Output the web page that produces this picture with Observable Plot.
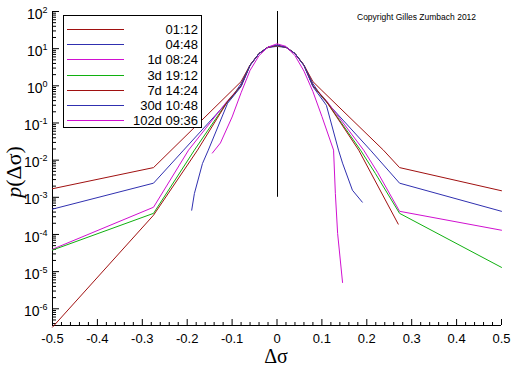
<!DOCTYPE html>
<html><head><meta charset="utf-8">
<script src="https://cdn.jsdelivr.net/npm/d3@7"></script>
<script src="https://cdn.jsdelivr.net/npm/@observablehq/plot@0.6"></script>
<style>
body{margin:0;background:#fff;}
#wrap{position:relative;width:512px;height:366px;overflow:hidden;font-family:Arial,"Liberation Sans",sans-serif;}
#legend{position:absolute;left:63px;top:15px;width:139px;height:113px;border:1px solid #000;background:#fff;box-sizing:border-box;}
.lrow{position:absolute;left:0;width:137px;height:15px;}
.lline{position:absolute;left:3px;width:57px;top:7px;height:1px;}
.ltext{position:absolute;right:3px;top:0;font-size:13px;line-height:15px;color:#000;white-space:nowrap;}
#copy{position:absolute;left:357px;top:12px;font-size:8.5px;color:#000;white-space:nowrap;}
#ylab{position:absolute;left:14px;top:172px;transform:translate(-50%,-50%) rotate(-90deg);font-family:"Liberation Serif","Times New Roman",serif;font-size:22px;white-space:nowrap;}
#xlab{position:absolute;left:276px;top:356px;transform:translate(-50%,-50%);font-family:"Liberation Serif","Times New Roman",serif;font-size:20px;line-height:20px;white-space:nowrap;}
</style></head><body><div id="wrap"></div>
<script>
const labels = ["01:12","04:48","1d 08:24","3d 19:12","7d 14:24","30d 10:48","102d 09:36"];
const colors = ["#a01010","#3030b0","#d010d0","#10b010","#a01010","#3030b0","#d010d0"];

const dsigma_0112 = [-0.5,-0.275,-0.1,-0.08,-0.06,-0.04,-0.02,0,0.02,0.04,0.06,0.08,0.1,0.237,0.273,0.5];
const p_0112      = [1.7e-3,6.3e-3,0.75,1.3,3.6,7.4,10.8,12,10.8,7.4,3.6,1.3,0.75,1.86e-2,6.3e-3,1.5e-3];

const dsigma_0448 = [-0.5,-0.275,-0.208,-0.1,-0.08,-0.06,-0.04,-0.02,0,0.02,0.04,0.06,0.08,0.1,0.208,0.273,0.5];
const p_0448      = [4.8e-4,2.4e-3,1.86e-2,0.5,1.15,3.6,7.4,10.8,11.5,10.8,7.4,3.6,1.15,0.5,1.86e-2,2.4e-3,4.2e-4];

const dsigma_1d = [-0.5,-0.275,-0.197,-0.11,-0.08,-0.06,-0.04,-0.02,0,0.02,0.04,0.06,0.08,0.11,0.193,0.224,0.273,0.5];
const p_1d      = [4e-5,5.4e-4,1.86e-2,0.4,1.0,3.6,7.4,11,12,11,7.4,3.6,1.0,0.4,1.86e-2,4.7e-3,4.2e-4,1.3e-4];

const dsigma_3d = [-0.5,-0.275,-0.184,-0.11,-0.08,-0.06,-0.04,-0.02,0,0.02,0.04,0.06,0.08,0.11,0.186,0.219,0.273,0.5];
const p_3d      = [3.8e-5,3.7e-4,1.86e-2,0.38,1.0,3.6,7.4,11,12,11,7.4,3.6,1.0,0.38,1.86e-2,4.4e-3,3.7e-4,1.3e-5];

const dsigma_7d = [-0.5,-0.275,-0.177,-0.11,-0.08,-0.06,-0.04,-0.02,0,0.02,0.04,0.06,0.08,0.11,0.182,0.27];
const p_7d      = [3.2e-7,3.3e-4,1.86e-2,0.38,1.0,3.6,7.4,11,12,11,7.4,3.6,1.0,0.38,1.86e-2,1.9e-4];

const dsigma_30d = [-0.19,-0.184,-0.166,-0.153,-0.11,-0.08,-0.06,-0.04,-0.02,0,0.02,0.04,0.06,0.08,0.11,0.137,0.146,0.168,0.19];
const p_30d      = [4.5e-4,1.26e-3,8.1e-3,1.86e-2,0.34,0.95,3.5,7.4,11,12.5,11,7.4,3.5,0.95,0.3,1.86e-2,8.3e-3,1.55e-3,7.4e-4];

const dsigma_102d = [-0.144,-0.126,-0.1,-0.08,-0.06,-0.04,-0.02,0,0.02,0.04,0.06,0.08,0.1,0.126,0.13,0.135,0.146];
const p_102d      = [1.55e-2,2.9e-2,0.145,0.65,2.6,6.5,11,13.5,11.5,6.5,2.5,0.7,0.15,1.86e-2,1.26e-3,1.07e-4,5.1e-6];

const xTickValues = [-0.5,-0.4,-0.3,-0.2,-0.1,0,0.1,0.2,0.3,0.4,0.5];
const yTickExponents = [-6,-5,-4,-3,-2,-1,0,1,2];

const xsList = [dsigma_0112,dsigma_0448,dsigma_1d,dsigma_3d,dsigma_7d,dsigma_30d,dsigma_102d];
const psList = [p_0112,p_0448,p_1d,p_3d,p_7d,p_30d,p_102d];
const rows = labels.flatMap((label,i)=>xsList[i].map((x,j)=>({series:label,x,p:psList[i][j]})));

const yMin = 3.55e-7, yMax = 100;
const yMajor = yTickExponents.map(e=>Math.pow(10,e));
const yMinor = [];
for (let e=-7;e<=1;e++) for (let m=2;m<=9;m++){const v=m*Math.pow(10,e); if(v>=yMin&&v<=yMax) yMinor.push(v);}
const xMinor = d3.range(-50,51,2).map(v=>v/100).filter(v=>Math.abs(Math.round(v*10)-v*10)>1e-6);

const fmtX = d => (Math.abs(d)<1e-9 ? "0" : String(+d.toFixed(1)));

const chart = Plot.plot({
  width:512, height:366, marginLeft:52, marginRight:11, marginTop:11, marginBottom:41,
  style:{fontFamily:"Arial, 'Liberation Sans', sans-serif", fontSize:"13px", background:"white", color:"black", overflow:"visible"},
  x:{domain:[-0.5,0.5]},
  y:{type:"log", domain:[yMin,yMax]},
  color:{domain:labels, range:colors},
  marks:[
    Plot.axisX({ticks:xTickValues, tickSize:-6, tickPadding:14, tickFormat:fmtX, label:null}),
    Plot.axisX({ticks:xMinor, tickSize:-3, tickFormat:()=>"", label:null}),
    Plot.axisY({ticks:yMajor, tickSize:-7, tickPadding:12, tickFormat:d=>"10^"+Math.round(Math.log10(d)), label:null}),
    Plot.axisY({ticks:yMinor, tickSize:-4, tickFormat:()=>"", label:null}),
    Plot.ruleX([-0.5],{stroke:"black"}),
    Plot.ruleY([yMin],{stroke:"black"}),
    Plot.ruleX([0],{y1:1e-3,y2:100,stroke:"black",dx:0.5}),
    Plot.line(rows,{x:"x",y:"p",z:"series",stroke:"series",strokeWidth:1})
  ]
});

// superscript exponents on y tick labels
chart.querySelectorAll('g[aria-label="y-axis tick label"] text').forEach(t=>{
  const s=t.textContent; const m=s.match(/^10\^(-?\d+)$/);
  if(!m) return;
  t.textContent="";
  const ns="http://www.w3.org/2000/svg";
  const a=document.createElementNS(ns,"tspan"); a.textContent="10"; a.setAttribute("font-size","14");
  const b=document.createElementNS(ns,"tspan"); b.textContent=m[1]; b.setAttribute("font-size","9"); b.setAttribute("dy","-6");
  t.appendChild(a); t.appendChild(b);
  t.setAttribute("transform",(t.getAttribute("transform")||"")+" translate(0,3)");
});

const wrap=document.getElementById("wrap");
wrap.appendChild(chart);

const legend=document.createElement("div"); legend.id="legend";
labels.forEach((l,i)=>{
  const r=document.createElement("div"); r.className="lrow"; r.style.top=Math.round(6+i*15.2)+"px";
  const ln=document.createElement("div"); ln.className="lline"; ln.style.background=colors[i];
  const tx=document.createElement("div"); tx.className="ltext"; tx.textContent=l;
  r.appendChild(ln); r.appendChild(tx); legend.appendChild(r);
});
wrap.appendChild(legend);

const cp=document.createElement("div"); cp.id="copy"; cp.textContent="Copyright Gilles Zumbach 2012"; wrap.appendChild(cp);
const yl=document.createElement("div"); yl.id="ylab"; yl.innerHTML="<i>p</i>(Δσ)"; wrap.appendChild(yl);
const xl=document.createElement("div"); xl.id="xlab"; xl.textContent="Δσ"; wrap.appendChild(xl);
</script></body></html>
